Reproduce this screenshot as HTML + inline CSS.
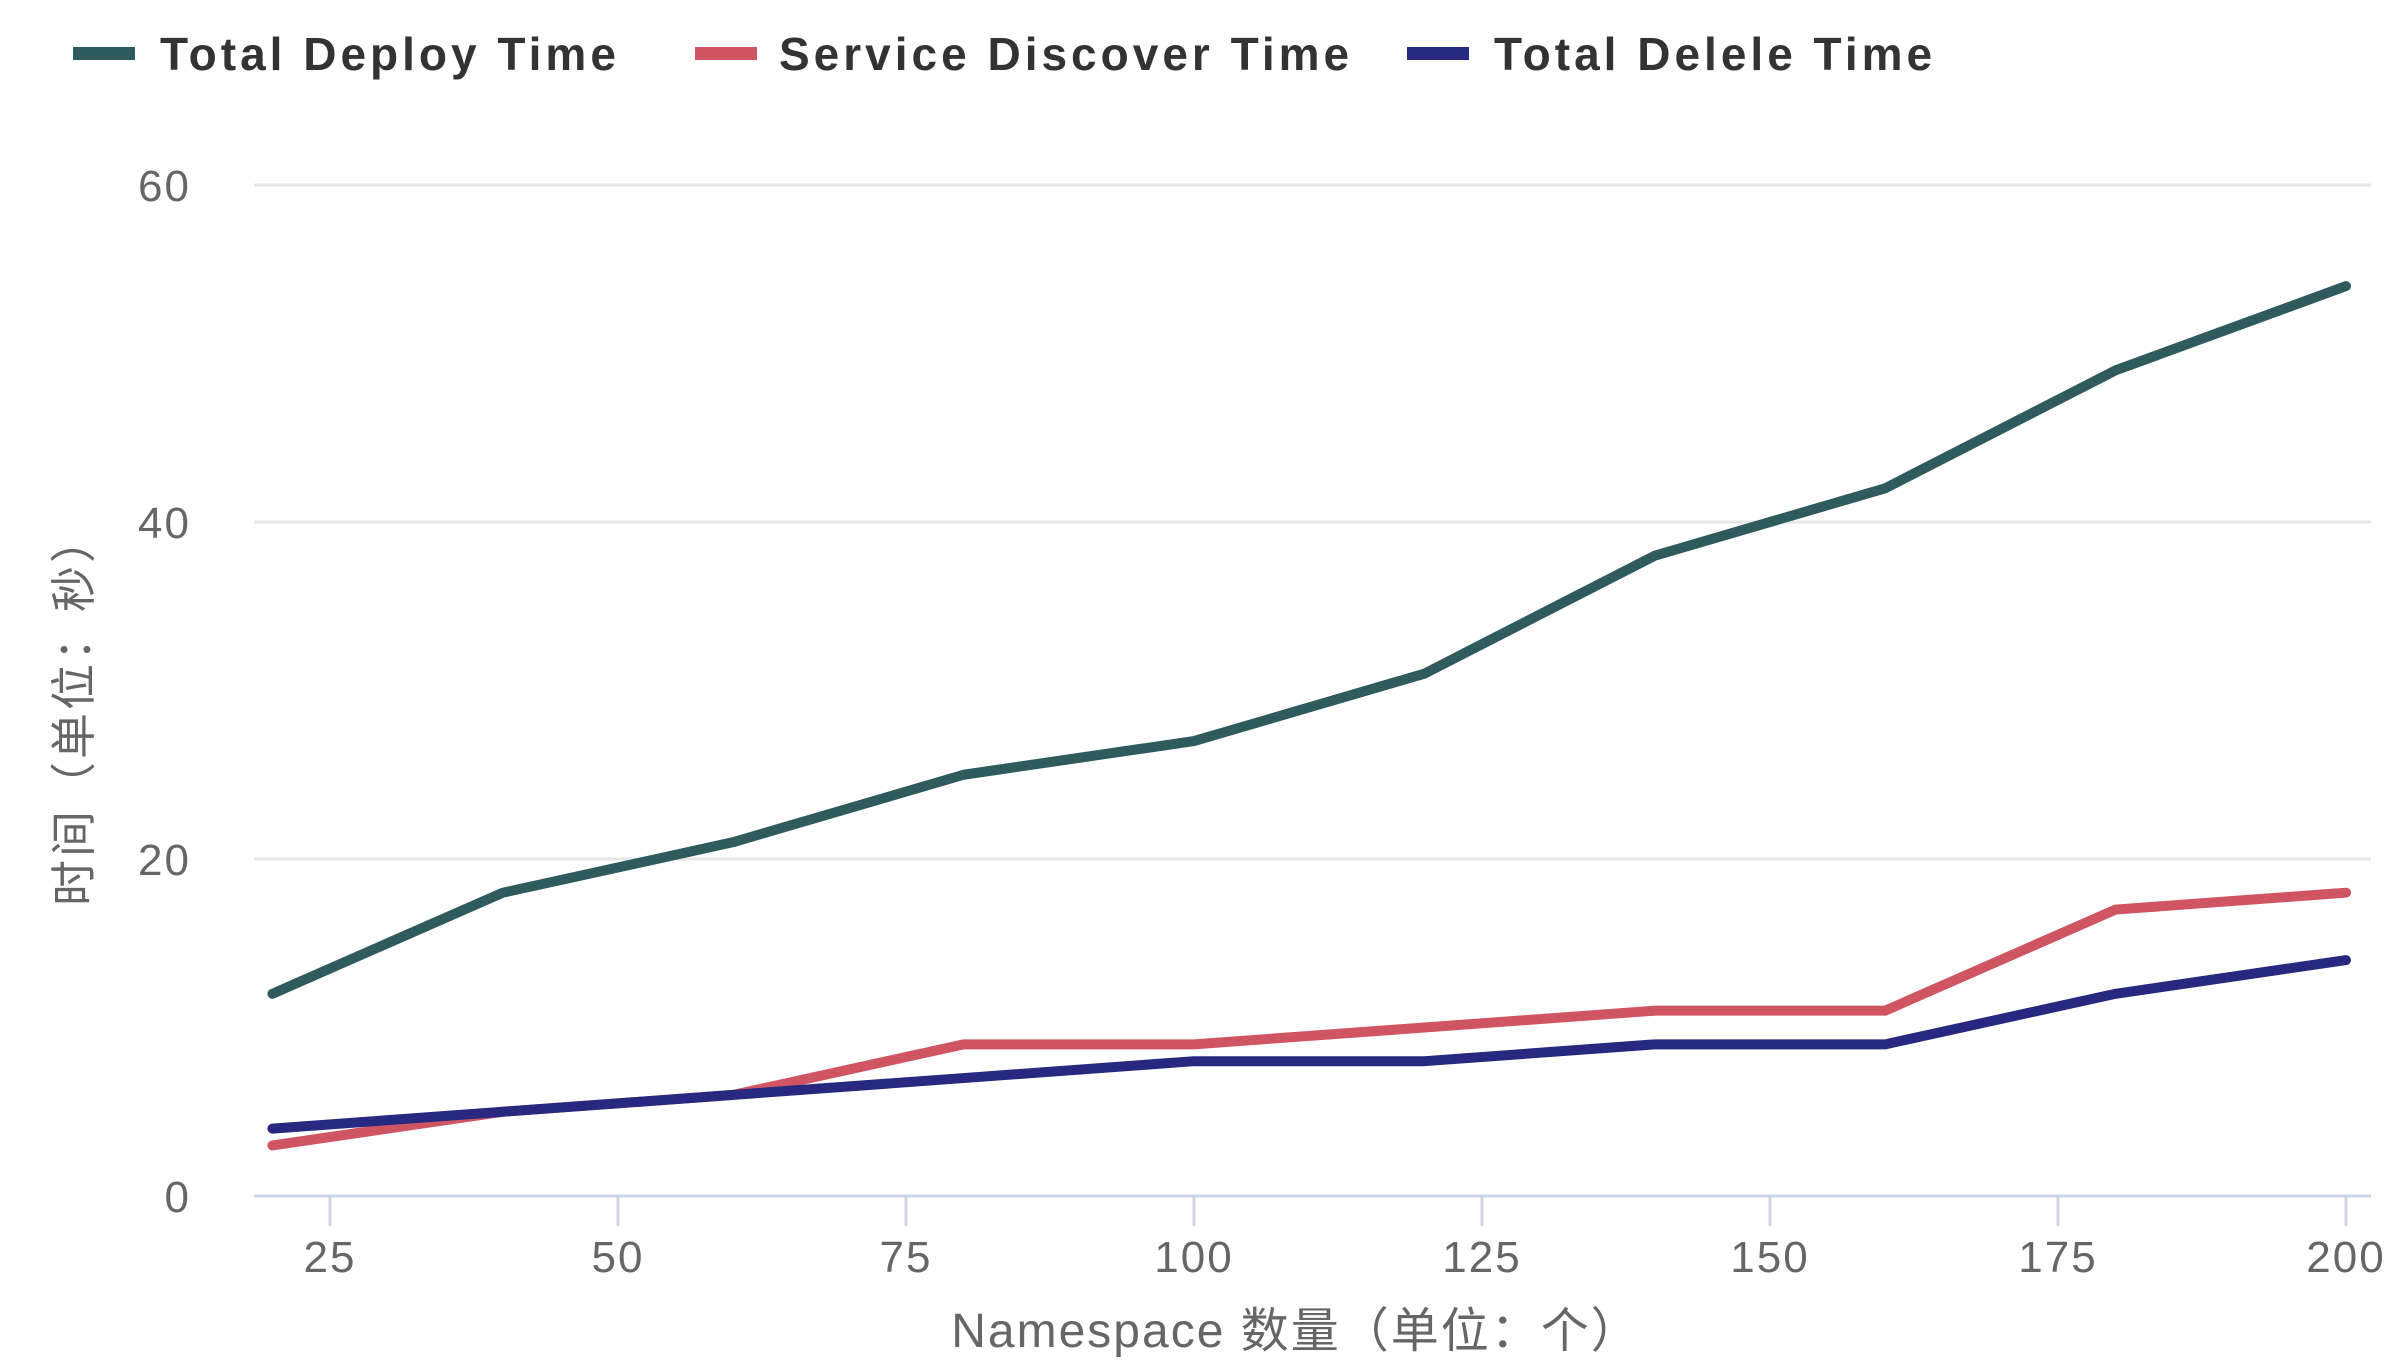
<!DOCTYPE html>
<html><head><meta charset="utf-8"><style>
html,body{margin:0;padding:0;background:#fff;}
svg{display:block;font-family:"Liberation Sans","Noto Sans CJK SC",sans-serif;}
</style></head><body>
<svg id="chart" width="2384" height="1364" viewBox="0 0 2384 1364" xmlns="http://www.w3.org/2000/svg">
<g id="legend"></g>
<g id="grid"></g>
<g id="series"></g>
<g id="axes"></g>
<text x="0" y="0" transform="translate(90,710) rotate(-90)" text-anchor="middle" font-size="46" letter-spacing="3" fill="#666">时间（单位：秒）</text>
<text x="1296" y="1347" text-anchor="middle" font-size="48" letter-spacing="2" fill="#666">Namespace 数量（单位：个）</text>
</svg>
<script>
const categories = [20,40,60,80,100,120,140,160,180,200];
const deployTime = [12,18,21,25,27,31,38,42,49,54];
const discoverTime = [3,5,6,9,9,10,11,11,17,18];
const deleteTime = [4,5,6,7,8,8,9,9,12,14];
const yTicks = [0,20,40,60];
const xTicks = [25,50,75,100,125,150,175,200];

const NS = "http://www.w3.org/2000/svg";
function xs(v){ return 330 + (v-25)*(2346-330)/175; }
function ys(v){ return 1196 - v*(1196-185)/60; }
function mk(tag, attrs, parent){
  const e = document.createElementNS(NS, tag);
  for (const k in attrs) e.setAttribute(k, attrs[k]);
  parent.appendChild(e); return e;
}
const grid = document.getElementById('grid');
const axes = document.getElementById('axes');
const seriesG = document.getElementById('series');
const legend = document.getElementById('legend');

yTicks.forEach(t => {
  if (t !== 0) {
    const l = mk('line', {x1:254, x2:2371, y1:ys(t), y2:ys(t), stroke:'#e6e6e6', 'stroke-width':3}, grid);
    
    
  }
  const tx = mk('text', {x:191, y:ys(t)+16, 'text-anchor':'end', 'font-size':44, 'letter-spacing':2, fill:'#666'}, axes);
  tx.textContent = t;
  
  
});
const ax = mk('line', {x1:254, x2:2371, y1:1196, y2:1196, stroke:'#ccd6eb', 'stroke-width':3}, axes);


xTicks.forEach(t => {
  const tk = mk('line', {x1:xs(t), x2:xs(t), y1:1196, y2:1226, stroke:'#ccd6eb', 'stroke-width':3}, axes);
  
  
  const tx = mk('text', {x:xs(t), y:1272, 'text-anchor':'middle', 'font-size':44, 'letter-spacing':2, fill:'#666'}, axes);
  tx.textContent = t;
  
  
});

const series = [
  {name:'Total Deploy Time', data:deployTime, color:'#2f5b5e', id:'deploy', lx:73, tx:160},
  {name:'Service Discover Time', data:discoverTime, color:'#d05563', id:'discover', lx:695, tx:779},
  {name:'Total Delele Time', data:deleteTime, color:'#27287f', id:'delete', lx:1407, tx:1494}
];
[series[1], series[2], series[0]].forEach(s => {
  const d = s.data.map((v,i) => (i?'L':'M') + xs(categories[i]) + ',' + ys(v)).join(' ');
  const p = mk('path', {d:d, fill:'none', stroke:s.color, 'stroke-width':10, 'stroke-linecap':'round', 'stroke-linejoin':'round'}, seriesG);
  
  
});
series.forEach(s => {
  const g = mk('g', {}, legend);
  
  
  mk('rect', {x:s.lx, y:47, width:62, height:13, fill:s.color}, g);
  const t = mk('text', {x:s.tx, y:70, 'font-size':46, 'font-weight':'bold', 'letter-spacing':4, fill:'#333'}, g);
  t.textContent = s.name;
});
</script>
</body></html>
